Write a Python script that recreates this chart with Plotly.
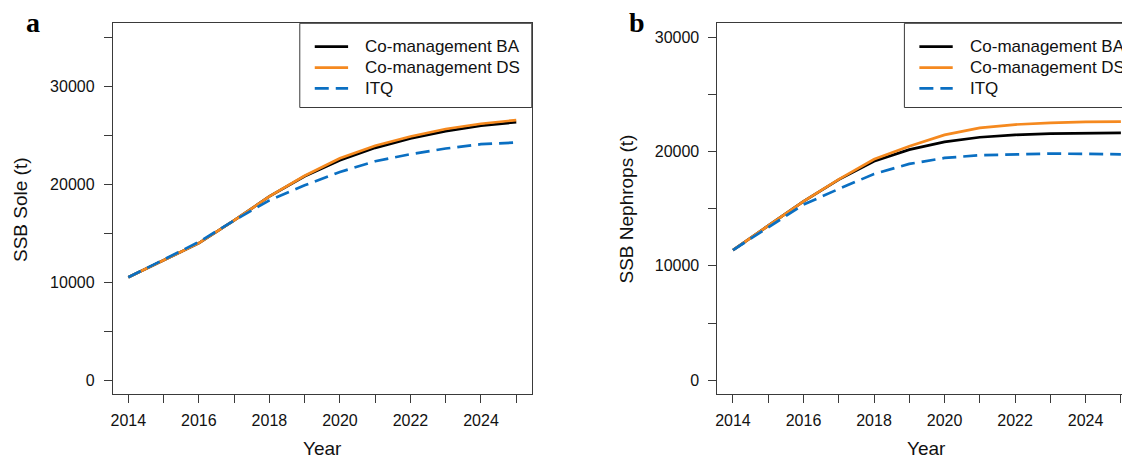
import plotly.graph_objects as go

years = list(range(2014, 2026))

# Panel a: SSB Sole (t)
sole_ba = [10500, 12200, 13980, 16300, 18750, 20800, 22430, 23700, 24650, 25400, 25950, 26320]
sole_ds = [10500, 12200, 13980, 16300, 18750, 20850, 22640, 23920, 24860, 25620, 26160, 26530]
sole_itq = [10500, 12300, 14100, 16300, 18340, 19880, 21240, 22330, 23050, 23630, 24070, 24240]

# Panel b: SSB Nephrops (t)
neph_ba = [11380, 13510, 15640, 17540, 19140, 20160, 20830, 21240, 21450, 21560, 21620, 21620]
neph_ds = [11380, 13510, 15640, 17560, 19320, 20450, 21450, 22060, 22350, 22500, 22590, 22610]
neph_itq = [11380, 13400, 15350, 16720, 18030, 18910, 19430, 19670, 19750, 19810, 19790, 19750]

series_names = ["Co-management BA", "Co-management DS", "ITQ"]
series_colors = ["#000000", "#F5891F", "#0A6FC2"]
series_dash = ["solid", "solid", "14px,7px"]

x_tick_vals = years
x_tick_text = [str(y) if y % 2 == 0 else "" for y in years]
y_tick_vals = [0, 5000, 10000, 15000, 20000, 25000, 30000, 35000]
y_tick_text = ["0", "", "10000", "", "20000", "", "30000", ""]

# The page body has a default 8px margin: lay the figure out in window pixels
OFF = 8
WIN_W, WIN_H = 1130, 460
W, H = WIN_W - OFF, WIN_H - OFF


def px(x):
    return (x - OFF) / W


def py(y):
    return 1 - (y - OFF) / H


box_l_a, box_r_a = 111.0, 530.7
box_l_b = 716.7
box_t, box_b = 23.3, 394.0
wa = (box_r_a - box_l_a)
xr_a = [2013.56, 2025.44]
vis_b = WIN_W - box_l_b
xr_b = [2013.56, 2013.56 + (xr_a[1] - xr_a[0]) * vis_b / wa]

fig = go.Figure()
panels = [
    ("x", "y", [sole_ba, sole_ds, sole_itq]),
    ("x2", "y2", [neph_ba, neph_ds, neph_itq]),
]
for xa, ya, data in panels:
    for name, vals, col, dash in zip(series_names, data, series_colors, series_dash):
        fig.add_trace(go.Scatter(x=years, y=vals, mode="lines", name=name,
                                 xaxis=xa, yaxis=ya, showlegend=False,
                                 line=dict(color=col, width=2.7, dash=dash)))

axcol = "#3a3a3a"
tickfont = dict(family="Liberation Sans, Arial, sans-serif", size=16, color="#111111")
common_x = dict(showline=True, linecolor=axcol, linewidth=1, ticks="outside", ticklen=8,
                tickwidth=1, tickcolor=axcol, tickvals=x_tick_vals, ticktext=x_tick_text,
                tickfont=tickfont, showgrid=False, zeroline=False, ticklabelstandoff=4)
common_y = dict(showline=True, linecolor=axcol, linewidth=1, ticks="outside", ticklen=8,
                tickwidth=1, tickcolor=axcol, tickvals=y_tick_vals, ticktext=y_tick_text,
                tickfont=tickfont, showgrid=False, zeroline=False, ticklabelstandoff=6)

ydom = [py(box_b), py(box_t)]
fig.update_layout(
    width=W, height=H, autosize=False,
    margin=dict(l=0, r=0, t=0, b=0),
    paper_bgcolor="white", plot_bgcolor="white",
    xaxis=dict(domain=[px(box_l_a), px(box_r_a)], range=xr_a, anchor="y", mirror=True, **common_x),
    yaxis=dict(domain=ydom, range=[-1400, 36400], anchor="x", mirror=True, **common_y),
    xaxis2=dict(domain=[px(box_l_b), 1.0], range=xr_b, anchor="y2", mirror=True, **common_x),
    yaxis2=dict(domain=ydom, range=[-1200, 31200], anchor="x2", mirror=False, **common_y),
)

ann = []
shapes = []
titlefont = dict(family="Liberation Sans, Arial, sans-serif", size=19, color="#111111")
# axis titles
ann.append(dict(x=px((box_l_a + box_r_a) / 2), y=py(448), xref="paper", yref="paper",
                text="Year", showarrow=False, font=titlefont, xanchor="center", yanchor="middle",
                borderpad=0))
ann.append(dict(x=px(box_l_b + (box_r_a - box_l_a) / 2), y=py(448), xref="paper", yref="paper",
                text="Year", showarrow=False, font=titlefont, xanchor="center", yanchor="middle",
                borderpad=0))
ann.append(dict(x=px(18), y=py(209), xref="paper", yref="paper", text="SSB Sole (t)",
                textangle=-90, showarrow=False, font=titlefont, xanchor="center", yanchor="middle"))
ann.append(dict(x=px(625.6), y=py(209), xref="paper", yref="paper", text="SSB Nephrops (t)",
                textangle=-90, showarrow=False, font=titlefont, xanchor="center", yanchor="middle"))
# panel letters
letterfont = dict(family="Liberation Serif, Times New Roman, serif", size=28, color="#000000")
ann.append(dict(x=px(31), y=py(23), xref="paper", yref="paper", text="<b>a</b>",
                showarrow=False, font=letterfont, xanchor="center", yanchor="middle", borderpad=0))
ann.append(dict(x=px(636), y=py(23), xref="paper", yref="paper", text="<b>b</b>",
                showarrow=False, font=letterfont, xanchor="center", yanchor="middle", borderpad=0))

# legends (drawn manually so that panel b's legend can be cropped at the edge)
legfont = dict(family="Liberation Sans, Arial, sans-serif", size=17, color="#111111")
row_y = [46.7, 67.7, 88.3]
for left in (box_l_a, box_l_b):
    lx0 = left + 187.3
    shapes.append(dict(type="rect", xref="paper", yref="paper",
                       x0=px(lx0), x1=px(lx0 + 232.4), y0=py(107.5), y1=py(box_t),
                       line=dict(color=axcol, width=1), fillcolor="white", layer="above"))
    for name, col, dash, ry in zip(series_names, series_colors, series_dash, row_y):
        shapes.append(dict(type="line", xref="paper", yref="paper",
                           x0=px(lx0 + 15), x1=px(lx0 + 48.4), y0=py(ry), y1=py(ry),
                           line=dict(color=col, width=2.7, dash=dash), layer="above"))
        ann.append(dict(x=px(lx0 + 63.4), y=py(ry), xref="paper", yref="paper", text=name,
                        showarrow=False, font=legfont, xanchor="left", yanchor="middle"))

fig.update_layout(annotations=ann, shapes=shapes)
fig.write_html("out.html")
